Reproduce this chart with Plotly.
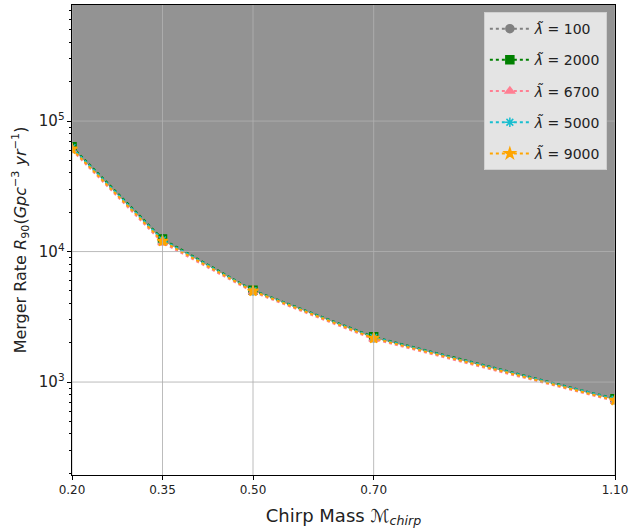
import plotly.graph_objects as go
import math

chirp_mass = [0.20, 0.35, 0.50, 0.70, 1.10]
x_tick_labels = ["0.20", "0.35", "0.50", "0.70", "1.10"]

lambda_labels = ["100", "2000", "6700", "5000", "9000"]
rate_100 = [61500, 12100, 5000, 2180, 730]
rate_2000 = [63500, 12500, 5050, 2220, 745]
rate_6700 = [60000, 11700, 4900, 2130, 715]
rate_5000 = [62500, 12300, 5020, 2200, 740]
rate_9000 = [61000, 12000, 4980, 2170, 725]
rel_err = [0.05, 0.05, 0.05, 0.05, 0.05]

series = [rate_100, rate_2000, rate_6700, rate_5000, rate_9000]
colors = ["#808080", "#008000", "#ff7f93", "#17becf", "#ffa500"]
symbols = ["circle", "square", "triangle-up", "asterisk-open", "star"]
sizes = [8, 8, 8, 8, 8]

y_lo, y_hi = 194, 775000

fig = go.Figure()

# excluded region (fill above the curve)
fig.add_trace(go.Scatter(x=chirp_mass, y=rate_100, mode="lines",
                         line=dict(width=0, color="rgba(0,0,0,0)"),
                         showlegend=False, hoverinfo="skip"))
fig.add_trace(go.Scatter(x=chirp_mass, y=[y_hi * 10] * len(chirp_mass), mode="lines",
                         line=dict(width=0, color="rgba(0,0,0,0)"),
                         fill="tonexty", fillcolor="#939393",
                         showlegend=False, hoverinfo="skip"))

for i, (lab, ys, c, s, sz) in enumerate(zip(lambda_labels, series, colors, symbols, sizes)):
    fig.add_trace(go.Scatter(
        x=chirp_mass, y=ys, mode="lines+markers",
        name="<i>λ̃</i> = " + lab, legendgroup="g%d" % i,
        line=dict(color=c, width=2, dash="dot"),
        marker=dict(color=c, symbol=s, size=sz, line=dict(color=c, width=1.5)),
        error_y=dict(type="data", array=[v * e for v, e in zip(ys, rel_err)],
                     color=c, thickness=1.5, width=0),
    ))

# grid lines drawn above the fill
shapes = []
for xv in chirp_mass:
    shapes.append(dict(type="line", xref="x", yref="paper", x0=xv, x1=xv, y0=0, y1=1,
                       line=dict(color="rgba(176,176,176,0.85)", width=1), layer="above"))
for yv in [1e3, 1e4, 1e5]:
    shapes.append(dict(type="line", xref="paper", yref="y", x0=0, x1=1, y0=yv, y1=yv,
                       line=dict(color="rgba(176,176,176,0.85)", width=1), layer="above"))

fig.update_layout(
    width=631, height=531,
    margin=dict(l=72, r=16, t=5, b=56, autoexpand=False),
    paper_bgcolor="white", plot_bgcolor="white",
    font=dict(family="DejaVu Sans", size=12, color="#222222"),
    shapes=shapes,
    showlegend=True,
    legend=dict(x=0.985, y=0.985, xanchor="right", yanchor="top",
                traceorder="grouped",
                bgcolor="rgba(232,232,232,0.95)", bordercolor="#d0d0d0", borderwidth=1,
                font=dict(size=14, color="#222222"), itemwidth=40,
                tracegroupgap=10),
    xaxis=dict(
        range=[0.2, 1.1], tickvals=chirp_mass, ticktext=x_tick_labels,
        showgrid=False, zeroline=False, automargin=False,
        showline=True, linecolor="black", linewidth=1, mirror=True,
        ticks="outside", ticklen=4, tickcolor="black",
        title=dict(text="Chirp Mass ℳ<sub><i>chirp</i></sub>", font=dict(size=18), standoff=12),
    ),
    yaxis=dict(
        type="log", range=[math.log10(y_lo), math.log10(y_hi)],
        dtick=1, exponentformat="power", automargin=False,
        showgrid=False, zeroline=False,
        showline=True, linecolor="black", linewidth=1, mirror=True,
        ticks="outside", ticklen=4, tickcolor="black",
        minor=dict(ticks="outside", ticklen=2, tickcolor="black", dtick="D1", showgrid=False),
        title=dict(text="Merger Rate <i>R</i><sub>90</sub>(<i>Gpc</i><sup>−3</sup> <i>yr</i><sup>−1</sup>)",
                   font=dict(size=16), standoff=8),
    ),
)

fig.write_html("out.html", config={"displayModeBar": False},
               post_script="document.body.style.margin='0';")
